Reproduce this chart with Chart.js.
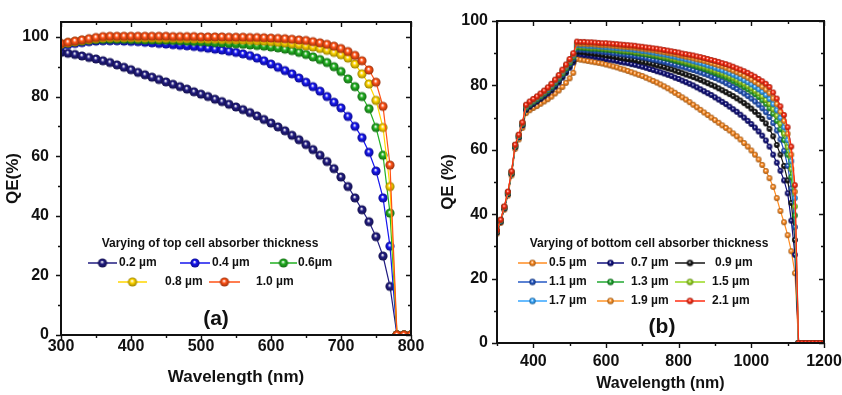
<!DOCTYPE html>
<html>
<head>
<meta charset="utf-8">
<script src="https://cdn.jsdelivr.net/npm/chart.js@4.4.0/dist/chart.umd.min.js"></script>
<style>
  html, body { margin: 0; padding: 0; background: #fff; }
  #wrap { position: relative; width: 842px; height: 395px; }
  .panel { position: absolute; top: 0; height: 395px; }
</style>
</head>
<body>
<div id="wrap">
  <div class="panel" style="left:421px;width:421px"><canvas id="chartB" width="421" height="395"></canvas></div>
  <div class="panel" style="left:0;width:440px"><canvas id="chartA" width="440" height="395"></canvas></div>
</div>
<script>
const FONT = "'Liberation Sans', Arial, sans-serif"
const INK = '#111'

// ---- panel (a): top cell absorber thickness ----
const wavelengthA = [300, 310, 320, 330, 340, 350, 360, 370, 380, 390,
  400, 410, 420, 430, 440, 450, 460, 470, 480, 490,
  500, 510, 520, 530, 540, 550, 560, 570, 580, 590,
  600, 610, 620, 630, 640, 650, 660, 670, 680, 690,
  700, 710, 720, 730, 740, 750, 760, 770, 780, 790, 800]
const xTicksA = [300, 400, 500, 600, 700, 800]
const yTicksA = [0, 20, 40, 60, 80, 100]
const labelsA = ['0.2 µm', '0.4 µm', '0.6µm', '0.8 µm', '1.0 µm']
const qeTop02 = [94.8, 94.5, 94.1, 93.6, 93.1, 92.6, 92.0, 91.4, 90.6, 89.8,
  89.0, 88.1, 87.3, 86.5, 85.7, 84.9, 84.1, 83.3, 82.5, 81.6,
  80.8, 80.0, 79.1, 78.3, 77.4, 76.5, 75.6, 74.6, 73.5, 72.3,
  71.1, 69.8, 68.5, 67.0, 65.5, 63.9, 62.2, 60.3, 58.2, 55.8,
  53.0, 49.8, 46.0, 42.0, 38.0, 33.0, 26.5, 16.3, 0, 0, 0]
const qeTop04 = [97.0, 97.4, 97.8, 98.1, 98.4, 98.6, 98.7, 98.7, 98.7, 98.6,
  98.5, 98.4, 98.2, 98.0, 97.8, 97.6, 97.4, 97.2, 97.0, 96.8,
  96.5, 96.2, 95.9, 95.6, 95.2, 94.8, 94.3, 93.7, 92.9, 92.0,
  90.9, 89.8, 88.7, 87.6, 86.2, 84.8, 83.3, 81.8, 80.0, 78.1,
  76.2, 73.3, 70.0, 66.2, 61.3, 55.0, 46.0, 29.8, 0, 0, 0]
const qeTop06 = [97.5, 97.9, 98.3, 98.6, 98.9, 99.1, 99.2, 99.2, 99.2, 99.2,
  99.1, 99.1, 99.0, 99.0, 98.9, 98.9, 98.8, 98.7, 98.6, 98.5,
  98.4, 98.3, 98.1, 98.0, 97.8, 97.7, 97.5, 97.3, 97.1, 96.9,
  96.6, 96.3, 95.9, 95.4, 94.8, 94.1, 93.3, 92.4, 91.4, 90.0,
  88.4, 85.9, 83.3, 80.0, 75.9, 69.6, 60.3, 40.9, 0, 0, 0]
const qeTop08 = [97.6, 98.0, 98.4, 98.8, 99.1, 99.4, 99.6, 99.7, 99.7, 99.7,
  99.7, 99.6, 99.6, 99.6, 99.5, 99.5, 99.5, 99.4, 99.4, 99.3,
  99.3, 99.2, 99.2, 99.1, 99.1, 99.0, 98.9, 98.8, 98.7, 98.6,
  98.4, 98.2, 98.0, 97.7, 97.4, 97.0, 96.6, 96.1, 95.5, 94.8,
  94.0, 92.9, 90.9, 87.6, 84.2, 78.7, 69.6, 49.8, 0, 0, 0]
const qeTop10 = [97.8, 98.2, 98.6, 99.0, 99.4, 99.8, 100.1, 100.2, 100.2, 100.2,
  100.2, 100.2, 100.2, 100.2, 100.2, 100.2, 100.1, 100.1, 100.1, 100.1,
  100.0, 100.0, 100.0, 100.0, 99.9, 99.9, 99.9, 99.8, 99.8, 99.7,
  99.6, 99.5, 99.4, 99.2, 99.0, 98.8, 98.4, 98.0, 97.5, 96.9,
  96.1, 95.1, 93.8, 92.0, 88.9, 84.8, 76.7, 57.0, 0, 0, 0]
const colorsA = ['#211c80', '#1616ee', '#22b022', '#ffd600', '#ff5216']

// ---- panel (b): bottom cell absorber thickness ----
const wavelengthB = [300, 310, 320, 330, 340, 350, 360, 370, 380, 390,
  400, 410, 420, 430, 440, 450, 460, 470, 480, 490,
  500, 510, 520, 530, 540, 550, 560, 570, 580, 590,
  600, 610, 620, 630, 640, 650, 660, 670, 680, 690,
  700, 710, 720, 730, 740, 750, 760, 770, 780, 790,
  800, 810, 820, 830, 840, 850, 860, 870, 880, 890,
  900, 910, 920, 930, 940, 950, 960, 970, 980, 990,
  1000, 1010, 1020, 1030, 1040, 1050, 1060, 1070, 1080, 1090,
  1100, 1110, 1120, 1130, 1140, 1150, 1160, 1170, 1180, 1190, 1200]
const xTicksB = [400, 600, 800, 1000, 1200]
const yTicksB = [0, 20, 40, 60, 80, 100]
const labelsB = ['0.5 µm', '0.7 µm', '0.9 µm', '1.1 µm', '1.3 µm', '1.5 µm', '1.7 µm', '1.9 µm', '2.1 µm']
const qeBot05 = [34.0, 37.3, 41.4, 45.8, 52.0, 60.3, 63.2, 66.8, 71.4, 72.3,
  73.0, 73.6, 74.3, 75.0, 75.7, 76.5, 77.5, 78.4, 79.5, 80.8,
  82.2, 83.9, 88.2, 88.0, 87.8, 87.6, 87.4, 87.2, 87.0, 86.8,
  86.5, 86.2, 85.9, 85.6, 85.2, 84.9, 84.5, 84.1, 83.7, 83.3,
  82.9, 82.4, 81.9, 81.4, 80.9, 80.3, 79.7, 79.1, 78.4, 77.7,
  77.0, 76.3, 75.6, 74.8, 74.0, 73.2, 72.4, 71.6, 70.8, 70.0,
  69.2, 68.4, 67.6, 66.8, 66.0, 65.1, 64.2, 63.2, 62.1, 61.0,
  59.8, 58.5, 57.0, 55.3, 53.4, 51.2, 48.5, 45.0, 41.0, 37.5,
  33.5, 28.5, 21.7, 0, 0, 0, 0, 0, 0, 0, 0]
const qeBot07 = [34.4, 37.7, 41.8, 46.3, 52.6, 60.9, 63.9, 67.6, 72.4, 73.4,
  74.2, 75.0, 75.8, 76.6, 77.5, 78.4, 79.6, 80.9, 82.4, 83.9,
  85.5, 87.1, 89.8, 89.6, 89.4, 89.3, 89.1, 88.9, 88.7, 88.5,
  88.2, 88.0, 87.8, 87.6, 87.3, 87.1, 86.9, 86.6, 86.4, 86.1,
  85.8, 85.5, 85.1, 84.8, 84.4, 84.1, 83.7, 83.3, 82.9, 82.4,
  82.0, 81.5, 81.0, 80.5, 80.0, 79.4, 78.8, 78.2, 77.6, 77.0,
  76.3, 75.6, 74.9, 74.2, 73.4, 72.6, 71.8, 70.9, 70.0, 69.0,
  68.0, 66.9, 65.7, 64.4, 62.9, 61.0, 58.5, 56.0, 53.5, 50.5,
  46.5, 38.0, 27.4, 0, 0, 0, 0, 0, 0, 0, 0]
const qeBot09 = [34.5, 37.8, 41.9, 46.4, 52.7, 61.0, 64.0, 67.8, 72.7, 73.7,
  74.5, 75.3, 76.1, 77.0, 77.9, 78.8, 80.0, 81.4, 82.9, 84.4,
  86.1, 87.8, 90.5, 90.4, 90.3, 90.1, 90.0, 89.8, 89.7, 89.5,
  89.3, 89.2, 89.0, 88.8, 88.6, 88.4, 88.2, 88.1, 87.9, 87.6,
  87.4, 87.1, 86.9, 86.6, 86.3, 86.0, 85.7, 85.3, 85.0, 84.6,
  84.2, 83.8, 83.4, 83.0, 82.6, 82.2, 81.7, 81.2, 80.7, 80.2,
  79.7, 79.1, 78.5, 77.9, 77.3, 76.7, 76.0, 75.3, 74.5, 73.7,
  72.8, 71.8, 70.8, 69.6, 68.2, 66.5, 64.2, 61.5, 58.5, 55.0,
  50.5, 43.5, 32.0, 0, 0, 0, 0, 0, 0, 0, 0]
const qeBot11 = [34.6, 37.9, 42.0, 46.5, 52.8, 61.1, 64.1, 67.9, 72.9, 73.9,
  74.7, 75.5, 76.3, 77.2, 78.1, 79.1, 80.3, 81.7, 83.2, 84.8,
  86.5, 88.2, 91.2, 91.1, 91.0, 90.9, 90.8, 90.7, 90.6, 90.4,
  90.3, 90.2, 90.0, 89.9, 89.7, 89.6, 89.4, 89.3, 89.1, 88.9,
  88.7, 88.5, 88.2, 88.0, 87.8, 87.5, 87.3, 87.0, 86.7, 86.4,
  86.1, 85.8, 85.5, 85.1, 84.8, 84.4, 84.0, 83.6, 83.2, 82.7,
  82.3, 81.8, 81.3, 80.7, 80.1, 79.5, 78.9, 78.2, 77.5, 76.7,
  75.9, 75.0, 74.0, 72.9, 71.7, 70.2, 68.3, 66.0, 63.2, 59.7,
  55.0, 48.0, 36.0, 0, 0, 0, 0, 0, 0, 0, 0]
const qeBot13 = [34.7, 38.0, 42.1, 46.6, 52.9, 61.2, 64.3, 68.1, 73.2, 74.2,
  75.0, 75.8, 76.7, 77.6, 78.5, 79.5, 80.8, 82.2, 83.7, 85.3,
  87.0, 88.8, 91.8, 91.7, 91.6, 91.5, 91.4, 91.4, 91.3, 91.2,
  91.1, 91.0, 90.9, 90.8, 90.6, 90.5, 90.4, 90.3, 90.1, 89.9,
  89.8, 89.6, 89.4, 89.2, 89.0, 88.8, 88.5, 88.3, 88.0, 87.7,
  87.4, 87.1, 86.8, 86.5, 86.2, 85.8, 85.5, 85.1, 84.7, 84.3,
  83.9, 83.4, 83.0, 82.5, 82.0, 81.4, 80.8, 80.2, 79.5, 78.8,
  78.1, 77.3, 76.4, 75.4, 74.3, 72.9, 71.2, 69.0, 66.4, 63.0,
  58.5, 51.5, 39.6, 0, 0, 0, 0, 0, 0, 0, 0]
const qeBot15 = [34.8, 38.1, 42.2, 46.7, 53.0, 61.3, 64.4, 68.2, 73.4, 74.4,
  75.2, 76.0, 76.9, 77.8, 78.7, 79.8, 81.1, 82.5, 84.0, 85.6,
  87.3, 89.1, 92.2, 92.1, 92.0, 91.9, 91.8, 91.8, 91.7, 91.6,
  91.5, 91.4, 91.3, 91.2, 91.1, 90.9, 90.8, 90.7, 90.5, 90.4,
  90.2, 90.0, 89.9, 89.7, 89.5, 89.2, 89.0, 88.8, 88.5, 88.2,
  88.0, 87.7, 87.4, 87.1, 86.8, 86.5, 86.1, 85.8, 85.4, 85.0,
  84.6, 84.2, 83.8, 83.3, 82.8, 82.3, 81.7, 81.1, 80.5, 79.8,
  79.1, 78.3, 77.5, 76.6, 75.5, 74.3, 72.6, 70.6, 68.1, 65.0,
  60.8, 54.0, 42.4, 0, 0, 0, 0, 0, 0, 0, 0]
const qeBot17 = [34.8, 38.1, 42.2, 46.8, 53.1, 61.4, 64.5, 68.3, 73.6, 74.6,
  75.4, 76.2, 77.1, 78.0, 78.9, 80.0, 81.3, 82.7, 84.3, 85.9,
  87.6, 89.4, 92.6, 92.5, 92.4, 92.3, 92.2, 92.2, 92.1, 92.0,
  91.9, 91.8, 91.7, 91.6, 91.5, 91.4, 91.3, 91.2, 91.0, 90.9,
  90.7, 90.6, 90.4, 90.2, 90.0, 89.8, 89.6, 89.4, 89.1, 88.9,
  88.6, 88.4, 88.1, 87.8, 87.5, 87.2, 86.9, 86.6, 86.2, 85.9,
  85.5, 85.1, 84.7, 84.3, 83.8, 83.3, 82.8, 82.2, 81.6, 81.0,
  80.3, 79.6, 78.8, 78.0, 77.0, 75.8, 74.2, 72.3, 69.9, 67.0,
  63.0, 56.5, 45.0, 0, 0, 0, 0, 0, 0, 0, 0]
const qeBot19 = [34.9, 38.2, 42.3, 46.9, 53.2, 61.5, 64.6, 68.4, 73.8, 74.8,
  75.6, 76.4, 77.3, 78.2, 79.2, 80.3, 81.6, 83.0, 84.6, 86.2,
  87.9, 89.7, 93.0, 92.9, 92.9, 92.8, 92.8, 92.7, 92.6, 92.5,
  92.5, 92.4, 92.3, 92.2, 92.1, 92.0, 91.9, 91.8, 91.7, 91.5,
  91.4, 91.2, 91.1, 90.9, 90.7, 90.5, 90.3, 90.1, 89.9, 89.7,
  89.4, 89.2, 88.9, 88.7, 88.4, 88.1, 87.9, 87.6, 87.3, 86.9,
  86.6, 86.2, 85.9, 85.5, 85.0, 84.6, 84.1, 83.6, 83.0, 82.4,
  81.8, 81.1, 80.4, 79.6, 78.7, 77.6, 76.0, 74.2, 71.8, 69.0,
  65.0, 58.5, 47.0, 0, 0, 0, 0, 0, 0, 0, 0]
const qeBot21 = [35.0, 38.3, 42.4, 47.0, 53.3, 61.6, 64.7, 68.5, 74.0, 75.0,
  75.8, 76.6, 77.5, 78.4, 79.4, 80.5, 81.8, 83.2, 84.9, 86.5,
  88.2, 90.0, 93.6, 93.5, 93.5, 93.4, 93.4, 93.3, 93.2, 93.1,
  93.1, 93.0, 92.9, 92.8, 92.7, 92.6, 92.5, 92.4, 92.3, 92.1,
  92.0, 91.8, 91.7, 91.5, 91.4, 91.2, 91.0, 90.8, 90.6, 90.4,
  90.2, 89.9, 89.7, 89.5, 89.3, 89.0, 88.8, 88.5, 88.2, 87.9,
  87.6, 87.3, 86.9, 86.6, 86.2, 85.8, 85.3, 84.9, 84.4, 83.9,
  83.3, 82.7, 82.0, 81.3, 80.5, 79.5, 77.8, 75.9, 73.5, 70.8,
  67.0, 61.0, 49.0, 0, 0, 0, 0, 0, 0, 0, 0]
const colorsB = ['#ff8c22', '#10107e', '#151515', '#2458c4', '#22a832',
  '#98d820', '#36a6ff', '#ff9428', '#ff2c12']

Chart.defaults.font.family = FONT
Chart.defaults.color = INK

function shade(hex, k) {
  const n = parseInt(hex.slice(1), 16)
  const r = Math.round(((n >> 16) & 255) * k)
  const g = Math.round(((n >> 8) & 255) * k)
  const b = Math.round((n & 255) * k)
  return `rgb(${r},${g},${b})`
}

// small shaded ball used as point marker
function ball(color, r) {
  const c = document.createElement('canvas')
  const s = Math.ceil(r * 2 + 2)
  c.width = s
  c.height = s
  const g = c.getContext('2d')
  const cx = s / 2, cy = s / 2
  const grad = g.createRadialGradient(cx - r * 0.1, cy - r * 0.25, r * 0.05, cx, cy, r)
  grad.addColorStop(0, '#ffffff')
  grad.addColorStop(0.4, color)
  grad.addColorStop(1, shade(color, 0.6))
  g.fillStyle = grad
  g.beginPath()
  g.arc(cx, cy, r, 0, Math.PI * 2)
  g.fill()
  return c
}

function makeDatasets(xs, series, labels, colors, r) {
  return series.map((ys, i) => ({
    label: labels[i],
    data: xs.map((x, j) => ({ x: x, y: ys[j] })),
    borderColor: colors[i],
    backgroundColor: colors[i],
    borderWidth: 1.2,
    pointStyle: ball(colors[i], r),
    pointRadius: r,
    order: series.length - i
  }))
}

function fixedTicks(values) {
  return function (s) { s.ticks = values.map(v => ({ value: v })) }
}

// frame around the plot and tick marks (out on bottom/left, in on top/right)
const framePlugin = {
  id: 'frame',
  afterDatasetsDraw(chart, args, opts) {
    const { ctx, chartArea: a, scales: { x, y } } = chart
    ctx.save()
    ctx.strokeStyle = INK
    ctx.lineWidth = 1.4
    ctx.beginPath()
    for (let v = x.min; v <= x.max; v += opts.xMinor) {
      const px = Math.round(x.getPixelForValue(v)) + 0.5
      const len = v % opts.xMajor === 0 ? 5 : 3
      ctx.moveTo(px, a.bottom); ctx.lineTo(px, a.bottom + len)
      ctx.moveTo(px, a.top); ctx.lineTo(px, a.top + len)
    }
    for (let v = 0; v <= opts.yTop; v += opts.yMinor) {
      const py = Math.round(y.getPixelForValue(v)) + 0.5
      const len = v % opts.yMajor === 0 ? 5 : 3
      ctx.moveTo(a.left, py); ctx.lineTo(a.left - len, py)
      ctx.moveTo(a.right, py); ctx.lineTo(a.right - len, py)
    }
    ctx.stroke()
    ctx.lineWidth = 2
    ctx.strokeRect(a.left, a.top, a.right - a.left, a.bottom - a.top)
    ctx.restore()
  }
}

// legend box inside the plot plus the panel tag
const legendPlugin = {
  id: 'boxLegend',
  afterDraw(chart, args, opts) {
    const ctx = chart.ctx
    ctx.save()
    ctx.fillStyle = INK
    ctx.textBaseline = 'middle'
    ctx.font = `bold ${opts.titleSize}px ${FONT}`
    ctx.textAlign = 'center'
    ctx.fillText(opts.title, opts.titleX, opts.titleY)
    ctx.font = `bold ${opts.size}px ${FONT}`
    ctx.textAlign = 'left'
    opts.items.forEach((it, i) => {
      const ds = chart.data.datasets[i]
      ctx.strokeStyle = ds.borderColor
      ctx.lineWidth = 1.5
      ctx.beginPath()
      ctx.moveTo(it.x0, it.y)
      ctx.lineTo(it.x1, it.y)
      ctx.stroke()
      const img = ball(ds.borderColor, opts.markR)
      ctx.drawImage(img, (it.x0 + it.x1) / 2 - img.width / 2, it.y - img.height / 2)
      ctx.fillStyle = INK
      ctx.fillText(ds.label, it.tx, it.y)
    })
    ctx.font = `bold ${opts.tagSize}px ${FONT}`
    ctx.textAlign = 'center'
    ctx.fillText(opts.tag, opts.tagX, opts.tagY)
    ctx.restore()
  }
}

const tickFont = { size: 16, weight: 'bold' }
const plain = v => String(v)

new Chart(document.getElementById('chartA'), {
  type: 'line',
  data: { datasets: makeDatasets(wavelengthA, [qeTop02, qeTop04, qeTop06, qeTop08, qeTop10], labelsA, colorsA, 4.6) },
  options: {
    responsive: false,
    animation: false,
    layout: { padding: { top: 22, right: 29, left: 0, bottom: 0 } },
    plugins: {
      legend: { display: false },
      tooltip: { enabled: false },
      frame: { xMinor: 50, xMajor: 100, yMinor: 10, yMajor: 20, yTop: 100 },
      boxLegend: {
        title: 'Varying of top cell absorber thickness', titleSize: 12, titleX: 210, titleY: 244,
        size: 12, markR: 4.6,
        items: [
          { x0: 88, x1: 117, y: 263, tx: 119 },
          { x0: 180, x1: 210, y: 263, tx: 212 },
          { x0: 270, x1: 297, y: 263, tx: 298 },
          { x0: 118, x1: 147, y: 282, tx: 165 },
          { x0: 209, x1: 240, y: 282, tx: 256 }
        ],
        tag: '(a)', tagSize: 21, tagX: 216, tagY: 319
      }
    },
    scales: {
      x: {
        type: 'linear', min: 300, max: 800,
        afterBuildTicks: fixedTicks(xTicksA),
        ticks: { font: tickFont, color: INK, padding: 2, maxRotation: 0, callback: plain },
        grid: { display: false, drawTicks: false },
        border: { display: false },
        title: { display: true, text: 'Wavelength (nm)', font: { size: 17, weight: 'bold' }, color: INK, padding: { top: 0, bottom: 7 } },
        afterFit(s) { s.height = 60; s.paddingLeft = 0; s.paddingRight = 0 }
      },
      y: {
        min: 0, max: 105,
        afterBuildTicks: fixedTicks(yTicksA),
        ticks: { font: tickFont, color: INK, padding: 12, callback: plain },
        grid: { display: false, drawTicks: false },
        border: { display: false },
        title: { display: true, text: 'QE(%)', font: { size: 17, weight: 'bold' }, color: INK, padding: { top: 3, bottom: 0 } },
        afterFit(s) { s.width = 61; s.paddingTop = 0; s.paddingBottom = 0 }
      }
    }
  },
  plugins: [framePlugin, legendPlugin]
})

new Chart(document.getElementById('chartB'), {
  type: 'line',
  data: { datasets: makeDatasets(wavelengthB, [qeBot05, qeBot07, qeBot09, qeBot11, qeBot13, qeBot15, qeBot17, qeBot19, qeBot21], labelsB, colorsB, 2.9) },
  options: {
    responsive: false,
    animation: false,
    layout: { padding: { top: 21, right: 18, left: 14, bottom: 0 } },
    plugins: {
      legend: { display: false },
      tooltip: { enabled: false },
      frame: { xMinor: 100, xMajor: 200, yMinor: 10, yMajor: 20, yTop: 100 },
      boxLegend: {
        title: 'Varying of bottom cell absorber thickness', titleSize: 12, titleX: 228, titleY: 244,
        size: 12, markR: 3.2,
        items: [
          { x0: 97, x1: 126, y: 263, tx: 128 },
          { x0: 176, x1: 203, y: 263, tx: 210 },
          { x0: 254, x1: 284, y: 263, tx: 294 },
          { x0: 97, x1: 126, y: 282, tx: 128 },
          { x0: 176, x1: 203, y: 282, tx: 210 },
          { x0: 254, x1: 284, y: 282, tx: 291 },
          { x0: 97, x1: 126, y: 301, tx: 128 },
          { x0: 176, x1: 203, y: 301, tx: 210 },
          { x0: 254, x1: 284, y: 301, tx: 291 }
        ],
        tag: '(b)', tagSize: 21, tagX: 241, tagY: 327
      }
    },
    scales: {
      x: {
        type: 'linear', min: 300, max: 1200,
        afterBuildTicks: fixedTicks(xTicksB),
        ticks: { font: tickFont, color: INK, padding: 9, maxRotation: 0, callback: plain },
        grid: { display: false, drawTicks: false },
        border: { display: false },
        title: { display: true, text: 'Wavelength (nm)', font: { size: 16, weight: 'bold' }, color: INK, padding: { top: 0, bottom: 2 } },
        afterFit(s) { s.height = 52; s.paddingLeft = 0; s.paddingRight = 0 }
      },
      y: {
        min: 0, max: 100,
        afterBuildTicks: fixedTicks(yTicksB),
        ticks: { font: tickFont, color: INK, padding: 9, callback: plain },
        grid: { display: false, drawTicks: false },
        border: { display: false },
        title: { display: true, text: 'QE (%)', font: { size: 17, weight: 'bold' }, color: INK, padding: { top: 3, bottom: 0 } },
        afterFit(s) { s.width = 62; s.paddingTop = 0; s.paddingBottom = 0 }
      }
    }
  },
  plugins: [framePlugin, legendPlugin]
})
</script>
</body>
</html>
